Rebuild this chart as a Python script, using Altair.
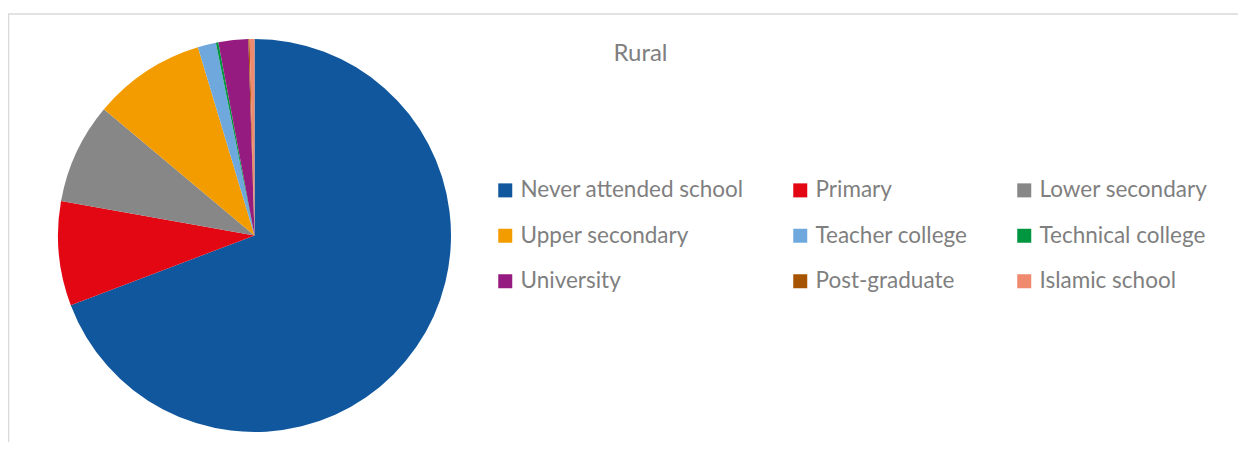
import altair as alt
import pandas as pd

categories = ["Never attended school", "Primary", "Lower secondary",
              "Upper secondary", "Teacher college", "Technical college",
              "University", "Post-graduate", "Islamic school"]
shares = [69.25, 8.58, 8.3, 9.25, 1.5, 0.2, 2.45, 0.1, 0.4]
colors = ["#10579e", "#e30613", "#878787", "#f39c00", "#6fa8dc",
          "#009640", "#951b81", "#a65400", "#ef8a6e"]

df = pd.DataFrame({"level": categories, "share": shares,
                   "idx": list(range(len(categories)))})

W, H = 1230, 434
FONT = "Lato"
GREY = "#7f7f7f"

pie = alt.Chart(df).mark_arc(radius=196.5, x=246.5, y=227.5).encode(
    theta=alt.Theta("share:Q", stack=True),
    color=alt.Color(
        "level:N",
        sort=categories,
        scale=alt.Scale(domain=categories, range=colors),
        legend=alt.Legend(
            title=None, orient="none", legendX=486, legendY=171,
            direction="horizontal",
            columns=3, columnPadding=45, rowPadding=22.5,
            symbolType="square", symbolSize=196, symbolStrokeWidth=0,
            labelFont=FONT, labelFontSize=22.5, labelColor=GREY,
            labelOffset=4, labelLimit=400, gridAlign="each",
        ),
    ),
    order=alt.Order("idx:Q"),
)

frame_top = alt.Chart(alt.Data(values=[{}])).mark_rule(
    color="#d9d9d9", strokeWidth=1.5
).encode(x=alt.value(0), x2=alt.value(W), y=alt.value(6))

frame_left = alt.Chart(alt.Data(values=[{}])).mark_rule(
    color="#d9d9d9", strokeWidth=1.5
).encode(x=alt.value(0.5), y=alt.value(6), y2=alt.value(H))

chart = alt.layer(frame_top, frame_left, pie).properties(
    width=W, height=H,
    autosize=alt.AutoSizeParams(type="none"),
    padding=0,
    title=alt.TitleParams(
        "Rural", anchor="start", frame="group", align="center",
        baseline="middle", dx=632.5, dy=70, offset=0,
        font=FONT, fontSize=24, fontWeight="normal", color=GREY,
    ),
).configure_view(stroke=None)

chart.save("out.html", embed_options={"renderer": "svg", "actions": False})
